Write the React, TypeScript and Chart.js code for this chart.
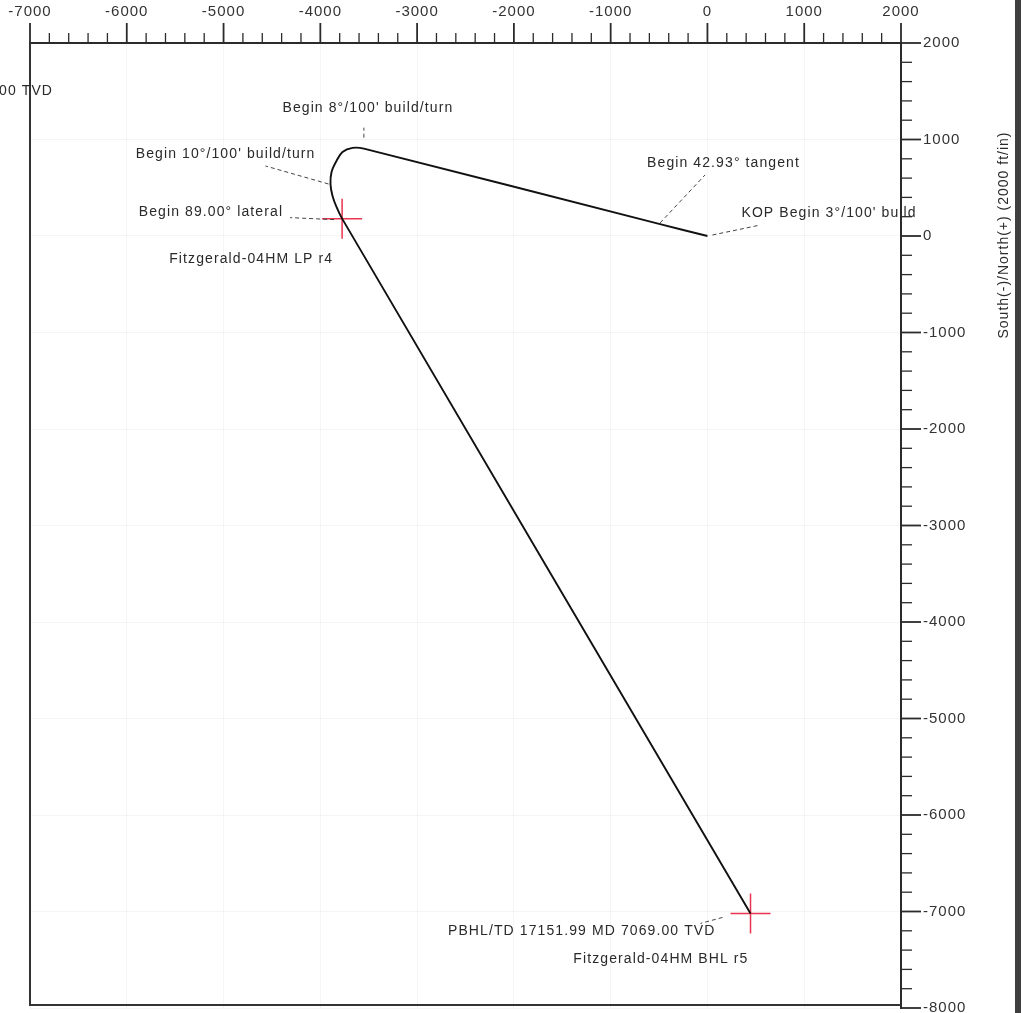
import React, { useEffect, useRef } from 'react';
import { Chart, registerables } from 'chart.js';

Chart.register(...registerables);

// ---- data (ft) ----
const eastWest = [0, -500, -3550, -3667, -3771, -3833, -3884, -3895, -3874, -3833, -3775, 445];
const northSouth = [0, 125, 905, 913, 871, 778, 664, 539, 415, 301, 180, -7020];

const targetEW = [-3775, 445];
const targetNS = [180, -7020];
const targetNames = ['Fitzgerald-04HM LP r4', 'Fitzgerald-04HM BHL r5'];

const stationLabels = [
  "KOP Begin 3°/100' build",
  'Begin 42.93° tangent',
  "Begin 8°/100' build/turn",
  "Begin 10°/100' build/turn",
  'Begin 89.00° lateral',
  'PBHL/TD 17151.99 MD 7069.00 TVD',
];
const stationIndex = [0, 1, 2, 7, 10, 11];

const xTickValues = [-7000, -6000, -5000, -4000, -3000, -2000, -1000, 0, 1000, 2000];
const yTickValues = [2000, 1000, 0, -1000, -2000, -3000, -4000, -5000, -6000, -7000, -8000];
const X_MIN = -7000, X_MAX = 2000, Y_MIN = -8000, Y_MAX = 2000, MINOR_STEP = 200;
const yTitle = 'South(-)/North(+) (2000 ft/in)';
const cornerText = '00 TVD';

// ---- label layout (pixel offsets from anchor) ----
type Lay = { l: [number, number, number, number]; t: [number, number]; align: CanvasTextAlign };
const stationLayout: Lay[] = [
  { l: [5, -1, 53, -11], t: [34, -23], align: 'left' },
  { l: [1, -1, 46, -49], t: [-12, -61], align: 'left' },
  { l: [0, -11, 0, -21], t: [4, -41], align: 'center' },
  { l: [-2, 0, -65, -18], t: [-15, -30], align: 'right' },
  { l: [-8, 1, -52, -1], t: [-59, -6], align: 'right' },
  { l: [-28, 4, -50, 10], t: [-35, 18], align: 'right' },
];
const targetLayout: Lay[] = [
  { l: [0, 0, 0, 0], t: [-9, 41], align: 'right' },
  { l: [0, 0, 0, 0], t: [-2, 46], align: 'right' },
];

const FONT = 'Liberation Sans, Arial, sans-serif';

const decorPlugin = {
  id: 'decor',
  beforeDraw(chart: any) {
    const ctx = chart.ctx as any;
    ctx.save();
    ctx.fillStyle = '#ffffff';
    ctx.fillRect(0, 0, chart.width, chart.height);
    ctx.restore();
    ctx.letterSpacing = '1px';
  },
  afterDraw(chart: any) {
    const ctx = chart.ctx as any;
    const a = chart.chartArea;
    const x = chart.scales.x;
    const y = chart.scales.y;
    ctx.save();
    ctx.setLineDash([]);
    ctx.strokeStyle = '#2b2b2b';
    // x ticks (top)
    for (let v = X_MIN; v <= X_MAX; v += MINOR_STEP) {
      const px = x.getPixelForValue(v);
      const major = v % 1000 === 0;
      ctx.lineWidth = major ? 1.8 : 1.3;
      ctx.beginPath();
      ctx.moveTo(px, a.top);
      ctx.lineTo(px, a.top - (major ? 20 : 10));
      ctx.stroke();
    }
    // y ticks (right)
    for (let v = Y_MIN; v <= Y_MAX; v += MINOR_STEP) {
      const py = y.getPixelForValue(v);
      const major = v % 1000 === 0;
      ctx.lineWidth = major ? 1.8 : 1.3;
      ctx.beginPath();
      ctx.moveTo(a.right, py);
      ctx.lineTo(a.right + (major ? 20 : 11), py);
      ctx.stroke();
    }
    // left & bottom frame
    ctx.lineWidth = 2;
    ctx.strokeStyle = '#333';
    ctx.beginPath();
    ctx.moveTo(a.left, a.top);
    ctx.lineTo(a.left, a.bottom - 3);
    ctx.lineTo(a.right, a.bottom - 3);
    ctx.stroke();

    // labels
    ctx.font = `14px ${FONT}`;
    ctx.letterSpacing = '1.1px';
    ctx.fillStyle = '#2a2a2a';
    ctx.textBaseline = 'middle';
    const drawLab = (text: string, ax: number, ay: number, lay: Lay, leader: boolean) => {
      if (leader) {
        ctx.save();
        ctx.strokeStyle = '#444';
        ctx.lineWidth = 1;
        ctx.setLineDash([4, 3]);
        ctx.beginPath();
        ctx.moveTo(ax + lay.l[0], ay + lay.l[1]);
        ctx.lineTo(ax + lay.l[2], ay + lay.l[3]);
        ctx.stroke();
        ctx.restore();
      }
      ctx.textAlign = lay.align;
      ctx.fillText(text, ax + lay.t[0], ay + lay.t[1]);
    };
    stationLabels.forEach((s, i) => {
      const k = stationIndex[i];
      drawLab(s, x.getPixelForValue(eastWest[k]), y.getPixelForValue(northSouth[k]), stationLayout[i], true);
    });
    targetNames.forEach((s, i) => {
      drawLab(s, x.getPixelForValue(targetEW[i]), y.getPixelForValue(targetNS[i]), targetLayout[i], false);
    });
    ctx.textAlign = 'left';
    ctx.fillText(cornerText, -1, 91);

    // y title
    ctx.save();
    ctx.letterSpacing = '1px';
    ctx.translate(1004, 235);
    ctx.rotate(-Math.PI / 2);
    ctx.textAlign = 'center';
    ctx.fillText(yTitle, 0, 0);
    ctx.restore();

    // page edge
    ctx.fillStyle = '#3f3f3f';
    ctx.fillRect(1015, 0, 6, chart.height);
    ctx.restore();
  },
};

export default function App() {
  const ref = useRef<HTMLCanvasElement>(null);
  useEffect(() => {
    const chart = new Chart(ref.current!, {
      type: 'scatter',
      data: {
        datasets: [
          {
            label: 'Wellpath',
            data: eastWest.map((v, i) => ({ x: v, y: northSouth[i] })),
            showLine: true,
            borderColor: '#111',
            borderWidth: 1.9,
            pointRadius: 0,
            tension: 0.35,
          },
          {
            label: 'Targets',
            data: targetEW.map((v, i) => ({ x: v, y: targetNS[i] })),
            showLine: false,
            pointStyle: 'cross',
            pointRadius: 20,
            borderColor: '#e8344e',
            borderWidth: 1.5,
          },
        ],
      },
      options: {
        responsive: false,
        animation: false,
        events: [],
        layout: { padding: { left: 30, right: 49, top: 0, bottom: 22 } },
        plugins: { legend: { display: false }, tooltip: { enabled: false } },
        scales: {
          x: {
            type: 'linear',
            position: 'top',
            min: X_MIN,
            max: X_MAX,
            afterBuildTicks: (s: any) => { s.ticks = xTickValues.map((v) => ({ value: v })); },
            afterFit: (s: any) => { s.height = 43; },
            ticks: {
              callback: (v: any) => String(v),
              font: { family: FONT, size: 15 },
              color: '#333',
              padding: 2,
              maxRotation: 0,
              autoSkip: false,
            },
            grid: { color: 'rgba(0,0,0,0.04)', lineWidth: 1, tickLength: 20, tickColor: 'rgba(0,0,0,0)' },
            border: { color: '#2b2b2b', width: 2 },
          },
          y: {
            type: 'linear',
            position: 'right',
            min: Y_MIN,
            max: Y_MAX,
            afterBuildTicks: (s: any) => { s.ticks = yTickValues.map((v) => ({ value: v })); },
            afterFit: (s: any) => { s.width = 80; },
            ticks: {
              callback: (v: any) => String(v),
              font: { family: FONT, size: 15 },
              color: '#333',
              padding: 2,
              autoSkip: false,
            },
            grid: { color: 'rgba(0,0,0,0.04)', lineWidth: 1, tickLength: 20, tickColor: 'rgba(0,0,0,0)' },
            border: { color: '#2b2b2b', width: 2 },
          },
        },
      },
      plugins: [decorPlugin],
    } as any);
    return () => chart.destroy();
  }, []);
  return (
    <div style={{ position: 'fixed', left: 0, top: 0, width: 1030, height: 1013, overflow: 'hidden', background: '#fff' }}>
      <canvas ref={ref} width={1030} height={1030} style={{ display: 'block', width: 1030, height: 1030 }} />
    </div>
  );
}
